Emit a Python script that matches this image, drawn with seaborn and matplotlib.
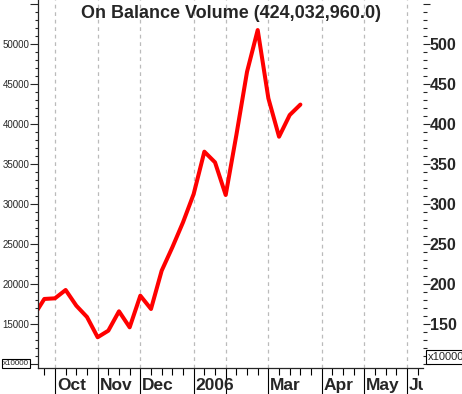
import numpy as np
import pandas as pd
import matplotlib
matplotlib.use('Agg')
import matplotlib.pyplot as plt
import seaborn as sns
from matplotlib.ticker import FixedLocator, FuncFormatter
from matplotlib.transforms import Bbox, TransformedBbox, blended_transform_factory

#%% data (weekly OBV, millions)
week_idx = list(range(-1, 25))
obv = [160, 181.3, 182.1, 192.5, 172.9, 158.8, 133.5, 141.7, 165.9, 145.9,
       185.4, 168.8, 216.6, 245.8, 277, 312.4, 365.2, 351.9, 311.1, 386,
       465, 517.1, 431.8, 383.9, 411, 424.03]
month_pos = [1, 5, 9, 14, 17, 21, 26, 30, 34]
month_lbl = ['Oct', 'Nov', 'Dec', '2006', '', 'Mar', 'Apr', 'May', 'Jun']
left_ticks = list(range(100, 551, 50))
title = 'On Balance Volume (424,032,960.0)'

df = pd.DataFrame({'week': week_idx, 'obv': obv})

#%% figure
sns.set_style('ticks')
plt.rcParams['font.family'] = ['Liberation Sans', 'DejaVu Sans']

W, H = 462, 394
fig = plt.figure(figsize=(W / 100, H / 100), dpi=100)
ax = fig.add_axes([38 / W, (H - 368) / H, (423 - 38) / W, 368 / H])

sns.lineplot(data=df, x='week', y='obv', color='#ff0000', lw=2.9, ax=ax)
ax.set_xlim(-0.59, 35.49)
ax.set_ylim(95.1, 554.6)
ax.set_xlabel('')
ax.set_ylabel('')

# x axis: weeks as minor ticks, month starts as long major ticks
ax.xaxis.set_major_locator(FixedLocator(month_pos))
ax.xaxis.set_minor_locator(FixedLocator([w for w in range(0, 36) if w not in month_pos]))
ax.set_xticklabels([])
ax.tick_params(axis='x', which='major', length=19, width=0.8, direction='out', color='black')
ax.tick_params(axis='x', which='minor', length=5, width=0.8, direction='out', color='black')
ax.xaxis.grid(True, which='major', color='#bbbbbb', lw=0.9, ls=(0, (3, 3)))

trans = blended_transform_factory(ax.transData, ax.transAxes)
clip = TransformedBbox(Bbox.from_extents(0, 0, 423 / W, 1), fig.transFigure)
for p, lbl in zip(month_pos, month_lbl):
    t = ax.text(p + 0.18, -0.059, lbl, transform=trans, fontsize=12.5,
                fontweight='bold', ha='left', va='baseline', clip_on=True)
    t.set_clip_box(clip)

# left y axis
def left_fmt(v, pos):
    return '' if v < 150 or v > 500 else f'{int(v * 100)}'

ax.yaxis.set_major_locator(FixedLocator(left_ticks))
ax.yaxis.set_minor_locator(FixedLocator(list(range(100, 555, 10))))
ax.yaxis.set_major_formatter(FuncFormatter(left_fmt))
ax.tick_params(axis='y', which='major', length=5.5, width=0.8, labelsize=7, pad=0.5)
ax.tick_params(axis='y', which='minor', length=2.5, width=0.8)

# right y axis
ax2 = ax.twinx()
ax2.set_ylim(ax.get_ylim())
ax2.yaxis.set_major_locator(FixedLocator(left_ticks))
ax2.yaxis.set_minor_locator(FixedLocator(list(range(100, 555, 10))))
ax2.yaxis.set_major_formatter(FuncFormatter(lambda v, p: '' if v < 150 or v > 500 else f'{int(v)}'))
ax2.tick_params(axis='y', which='major', length=5, width=0.8, labelsize=11.5, pad=0)
ax2.tick_params(axis='y', which='minor', length=3, width=0.8)
for lab in ax2.get_yticklabels():
    lab.set_fontweight('bold')

for a in (ax, ax2):
    a.spines['top'].set_visible(False)
    a.spines['right'].set_visible(False)
ax2.spines['left'].set_visible(False)
ax2.spines['bottom'].set_visible(False)
ax.spines['left'].set_linewidth(0.9)
ax.spines['bottom'].set_linewidth(0.9)

# title and multiplier boxes
fig.text(0.5, 1 - 14 / H, title, ha='center', va='center', fontsize=13, fontweight='bold')
fig.text(3 / W, 1 - 363.5 / H, 'x10000', ha='left', va='center', fontsize=5.8,
         bbox=dict(boxstyle='square,pad=0.15', fc='white', ec='black', lw=0.8))
fig.text(428 / W, 1 - 357 / H, 'x1000000', ha='left', va='center', fontsize=8,
         bbox=dict(boxstyle='square,pad=0.15', fc='white', ec='black', lw=0.8))

fig.savefig('out.png', dpi=100)
